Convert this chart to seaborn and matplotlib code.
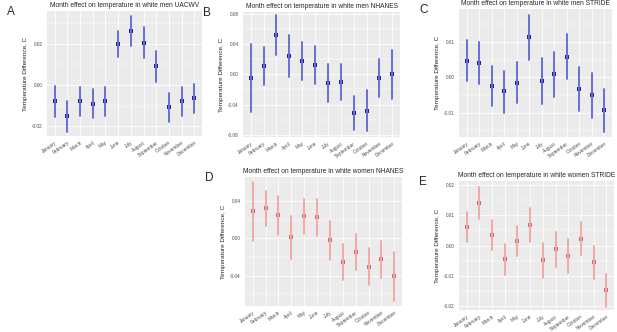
#!/usr/bin/env python3

import numpy as np
import pandas as pd
import matplotlib
matplotlib.use("Agg")
from matplotlib import pyplot as plt
from matplotlib.ticker import MultipleLocator, FixedLocator
import seaborn as sns

months = ["January", "February", "March", "April", "May", "June", "July",
          "August", "September", "October", "November", "December"]

# estimate, lower, upper for each panel
a_est = [-0.0076, -0.0150, -0.0076, -0.0090, -0.0076, 0.0198, 0.0263, 0.0205, 0.0090, -0.0108, -0.0076, -0.0061]
a_low = [-0.0153, -0.0226, -0.0148, -0.0160, -0.0148, 0.0134, 0.0189, 0.0129, 0.0016, -0.0179, -0.0148, -0.0134]
a_high = [-0.0003, -0.0080, -0.0011, -0.0021, -0.0011, 0.0263, 0.0334, 0.0279, 0.0165, -0.0040, -0.0008, 0.0005]

b_est = [-0.0053, 0.0110, 0.0520, 0.0246, 0.0176, 0.0127, -0.0119, -0.0100, -0.0510, -0.0480, -0.0048, 0.0004]
b_low = [-0.0500, -0.0145, 0.0260, -0.0035, -0.0080, -0.0127, -0.0370, -0.0340, -0.0740, -0.0750, -0.0300, -0.0320]
b_high = [0.0396, 0.0360, 0.0780, 0.0520, 0.0430, 0.0370, 0.0130, 0.0140, -0.0286, -0.0210, 0.0200, 0.0316]

c_est = [0.0047, 0.0041, -0.0025, -0.0040, -0.0015, 0.0114, -0.0010, 0.0009, 0.0058, -0.0033, -0.0051, -0.0093]
c_low = [-0.0010, -0.0019, -0.0082, -0.0100, -0.0074, 0.0049, -0.0075, -0.0055, -0.0006, -0.0096, -0.0115, -0.0154]
c_high = [0.0106, 0.0100, 0.0031, 0.0018, 0.0042, 0.0176, 0.0054, 0.0072, 0.0122, 0.0028, 0.0011, -0.0033]

d_est = [0.0290, 0.0320, 0.0250, 0.0014, 0.0236, 0.0225, -0.0018, -0.0254, -0.0143, -0.0304, -0.0225, -0.0404]
d_low = [-0.0030, 0.0130, 0.0040, -0.0220, 0.0043, 0.0030, -0.0230, -0.0446, -0.0336, -0.0504, -0.0420, -0.0668]
d_high = [0.0607, 0.0510, 0.0457, 0.0236, 0.0425, 0.0420, 0.0186, -0.0060, 0.0050, -0.0107, -0.0030, -0.0150]

e_est = [0.0062, 0.0141, 0.0035, -0.0046, 0.0014, 0.0069, -0.0049, -0.0013, -0.0034, 0.0022, -0.0056, -0.0147]
e_low = [0.0011, 0.0089, -0.0015, -0.0097, -0.0035, 0.0013, -0.0108, -0.0070, -0.0091, -0.0033, -0.0112, -0.0204]
e_high = [0.0111, 0.0192, 0.0084, 0.0005, 0.0066, 0.0125, 0.0009, 0.0044, 0.0022, 0.0077, -0.0001, -0.0095]

sns.set_theme(style="darkgrid", rc={
    "axes.facecolor": "#EBEBEB",
    "grid.color": "white",
    "axes.edgecolor": "none",
})
plt.rcParams["font.family"] = ["Liberation Sans", "DejaVu Sans"]

W, H = 617, 332
fig = plt.figure(figsize=(W / 100, H / 100), dpi=100)


def panel(letter, title, est, low, high, box, ylim, step, pt_color, bar_color):
    x0, y0, x1, y1 = box
    ax = fig.add_axes([x0 / W, 1 - y1 / H, (x1 - x0) / W, (y1 - y0) / H])
    rows = []
    for m, e, lo, hi in zip(months, est, low, high):
        rows += [(m, lo), (m, e), (m, hi)]
    df = pd.DataFrame(rows, columns=["month", "value"])
    sns.pointplot(data=df, x="month", y="value", order=months,
                  estimator="median", errorbar=lambda v: (v.min(), v.max()),
                  linestyle="none", marker="s", markersize=2.4,
                  markeredgewidth=0, color=pt_color, ax=ax,
                  err_kws={"color": bar_color, "linewidth": 1.4})
    ax.set_ylim(*ylim)
    ax.yaxis.set_major_locator(MultipleLocator(step))
    ax.yaxis.set_minor_locator(MultipleLocator(step / 2))
    ax.xaxis.set_minor_locator(FixedLocator([]))
    ax.grid(which="major", color="white", linewidth=0.6)
    ax.grid(which="minor", axis="y", color="white", linewidth=0.3)
    ax.set_xlim(-0.6, 11.6)
    ax.set_yticks(ax.get_yticks())
    ax.set_yticklabels(["%.2f" % t for t in ax.get_yticks()])
    ax.set_ylim(*ylim)
    ax.tick_params(axis="both", labelsize=3.4, colors="#4d4d4d", length=1.5,
                   width=0.4, pad=1.5)
    ax.tick_params(which="minor", length=0)
    plt.setp(ax.get_xticklabels(), rotation=35, ha="right", rotation_mode="anchor")
    ax.set_xlabel("")
    ax.set_ylabel("Temperature Difference, C", fontsize=4.6, labelpad=3)
    ax.set_title(title, fontsize=4.8, pad=3)
    fig.text((x0 - 40) / W, 1 - (y0 + 1) / H, letter, fontsize=8.5, va="center")
    return ax


blue_pt, blue_bar = "#1c1ca0", "#6570d4"
red_pt, red_bar = "#d06a6a", "#f3aaa3"

panel("A", "Month effect on temperature in white men UACWV", a_est, a_low, a_high,
      (47, 11, 202, 136), (-0.0247, 0.0358), 0.02, blue_pt, blue_bar)
panel("B", "Month effect on temperature in white men NHANES", b_est, b_low, b_high,
      (243, 12, 400, 137), (-0.0826, 0.082), 0.04, blue_pt, blue_bar)
panel("C", "Month effect on temperature in white men STRIDE", c_est, c_low, c_high,
      (459, 9, 612, 137), (-0.0169, 0.0193), 0.01, blue_pt, blue_bar)
panel("D", "Month effect on temperature in white women NHANES", d_est, d_low, d_high,
      (245, 177, 402, 306), (-0.0725, 0.0657), 0.04, red_pt, red_bar)
panel("E", "Month effect on temperature in white women STRIDE", e_est, e_low, e_high,
      (459, 181, 614, 310), (-0.0213, 0.0213), 0.01, red_pt, red_bar)

fig.savefig("out.png", dpi=100, facecolor="white")
